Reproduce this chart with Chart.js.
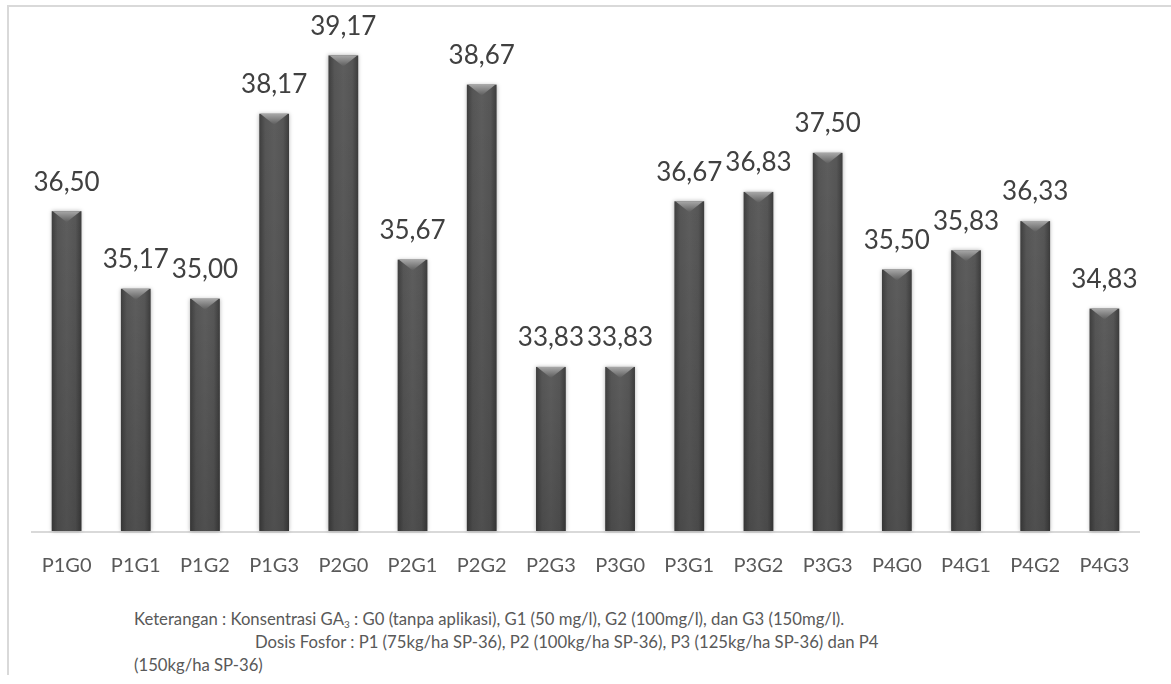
<!DOCTYPE html>
<html>
<head>
<meta charset="utf-8">
<script src="https://cdn.jsdelivr.net/npm/chart.js@4.4.1/dist/chart.umd.min.js"></script>
<style>
  html, body { margin: 0; padding: 0; background: #fff; }
  body { width: 1171px; height: 684px; position: relative; overflow: hidden; font-family: Lato, "Open Sans", sans-serif; }
  #frame { position: absolute; left: 7px; top: 5px; width: 1170px; height: 670px;
           border-left: 2px solid #d9d9d9; border-top: 2px solid #d9d9d9; box-sizing: border-box; }
  #wrap { position: absolute; left: 0; top: 0; width: 1171px; height: 600px; }
  .note { position: absolute; color: #595959; font-size: 16.7px; white-space: nowrap; line-height: 20px; }
  .note sub { font-size: 10px; vertical-align: -3px; line-height: 0; }
</style>
</head>
<body>
<div id="frame"></div>
<div id="wrap"><canvas id="c"></canvas></div>
<div class="note" style="left:134px; top:609px;">Keterangan : Konsentrasi GA<sub>3</sub> : G0 (tanpa aplikasi), G1 (50 mg/l), G2 (100mg/l), dan G3 (150mg/l).</div>
<div class="note" style="left:255px; top:632px;">Dosis Fosfor : P1 (75kg/ha SP-36), P2 (100kg/ha SP-36), P3 (125kg/ha SP-36) dan P4</div>
<div class="note" style="left:134px; top:655px;">(150kg/ha SP-36)</div>
<script>
// Treatment combinations (phosphorus dose x GA3 concentration)
const categories = ['P1G0','P1G1','P1G2','P1G3','P2G0','P2G1','P2G2','P2G3',
                    'P3G0','P3G1','P3G2','P3G3','P4G0','P4G1','P4G2','P4G3'];
const values = [36.50, 35.17, 35.00, 38.17, 39.17, 35.67, 38.67, 33.83,
                33.83, 36.67, 36.83, 37.50, 35.50, 35.83, 36.33, 34.83];
const yMin = 31;
const yMax = 40;

const fmt = v => v.toFixed(2).replace('.', ',');

// Shaded bar body with a bevelled top edge
const bevelBars = {
  id: 'bevelBars',
  afterDatasetsDraw(chart) {
    const ctx = chart.ctx;
    const bottom = chart.chartArea.bottom;
    chart.getDatasetMeta(0).data.forEach(bar => {
      const w = bar.width, l = bar.x - w / 2, r = bar.x + w / 2, t = bar.y, b = Math.min(bar.base, bottom - 1);
      ctx.save();
      ctx.shadowColor = 'rgba(0,0,0,0.3)';
      ctx.shadowBlur = 4;
      ctx.shadowOffsetX = 0;
      ctx.shadowOffsetY = 0;
      const g = ctx.createLinearGradient(l, 0, r, 0);
      g.addColorStop(0, '#3e3e3e');
      g.addColorStop(0.2, '#565656');
      g.addColorStop(0.5, '#5d5d5d');
      g.addColorStop(0.8, '#565656');
      g.addColorStop(1, '#3c3c3c');
      ctx.fillStyle = g;
      ctx.fillRect(l, t, w, b - t);
      ctx.restore();
      // darker toward the base
      ctx.save();
      const gv = ctx.createLinearGradient(0, t, 0, b);
      gv.addColorStop(0, 'rgba(0,0,0,0)');
      gv.addColorStop(1, 'rgba(0,0,0,0.15)');
      ctx.fillStyle = gv;
      ctx.fillRect(l, t, w, b - t);
      ctx.restore();
      // bevel
      ctx.save();
      const bh = 11;
      const gt = ctx.createLinearGradient(0, t, 0, t + bh);
      gt.addColorStop(0, '#a8a8a8');
      gt.addColorStop(1, '#5c5c5c');
      ctx.beginPath();
      ctx.moveTo(l + 1, t);
      ctx.lineTo(r - 1, t);
      ctx.lineTo(bar.x, t + bh);
      ctx.closePath();
      ctx.fillStyle = gt;
      ctx.fill();
      ctx.restore();
    });
  }
};

// Value labels above each bar
const valueLabels = {
  id: 'valueLabels',
  afterDatasetsDraw(chart) {
    const ctx = chart.ctx;
    const ds = chart.data.datasets[0];
    ctx.save();
    ctx.font = '26px Lato';
    ctx.fillStyle = '#404040';
    ctx.textAlign = 'center';
    ctx.textBaseline = 'bottom';
    chart.getDatasetMeta(0).data.forEach((bar, i) => {
      ctx.fillText(fmt(ds.data[i]), bar.x, bar.y - 16);
    });
    ctx.restore();
  }
};

new Chart(document.getElementById('c'), {
  type: 'bar',
  data: {
    labels: categories,
    datasets: [{
      data: values,
      backgroundColor: 'rgba(0,0,0,0)',
      barPercentage: 0.43,
      categoryPercentage: 1.0
    }]
  },
  options: {
    responsive: true,
    maintainAspectRatio: false,
    animation: false,
    layout: { padding: { left: 32, right: 32, top: 7, bottom: 0 } },
    plugins: { legend: { display: false }, tooltip: { enabled: false } },
    scales: {
      x: {
        grid: { display: false, drawTicks: false },
        border: { display: true, color: '#d9d9d9', width: 2 },
        ticks: { color: '#595959', font: { family: 'Lato', size: 20 }, padding: 22, maxRotation: 0, autoSkip: false }
      },
      y: {
        display: false,
        min: yMin,
        max: yMax
      }
    }
  },
  plugins: [bevelBars, valueLabels]
});
</script>
</body>
</html>
